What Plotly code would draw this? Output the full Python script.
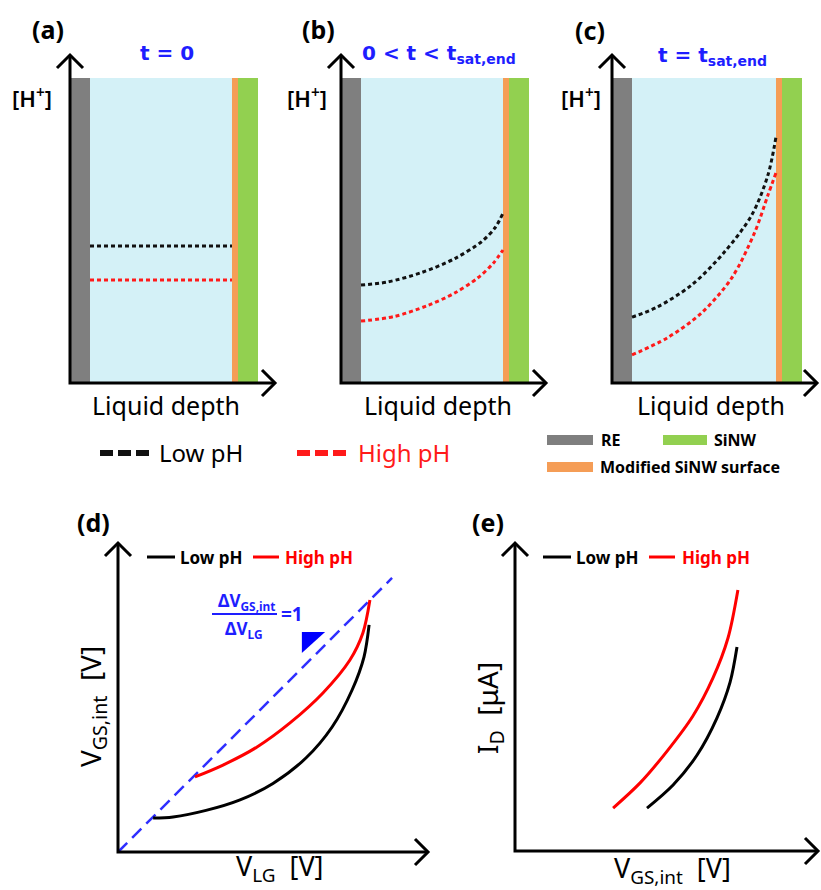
import plotly.graph_objects as go

W, H = 821, 890

# ---------------- data ----------------
# panels (a)-(c): liquid depth (0 = RE side, 1 = SiNW surface) vs [H+] (arb. units)
depth_a = [0.0, 1.0]
h_low_a = [0.449, 0.449]
h_high_a = [0.338, 0.338]

depth_b_low = [0.0, 0.184, 0.426, 0.660, 0.851, 0.944, 1.0]
h_low_b = [0.321, 0.331, 0.362, 0.408, 0.464, 0.509, 0.557]
depth_b_high = [0.0, 0.234, 0.468, 0.660, 0.823, 0.930, 1.0]
h_high_b = [0.203, 0.218, 0.254, 0.295, 0.345, 0.392, 0.436]

depth_c_low = [0.0, 0.175, 0.413, 0.643, 0.832, 0.944, 1.0]
h_low_c = [0.216, 0.249, 0.321, 0.430, 0.551, 0.682, 0.807]
depth_c_high = [0.0, 0.245, 0.483, 0.692, 0.853, 0.944, 1.0]
h_high_c = [0.092, 0.148, 0.230, 0.344, 0.495, 0.616, 0.689]

# panel (d): V_LG vs V_GS,int (arb. units)
vlg_low = [0.130, 0.204, 0.326, 0.452, 0.574, 0.696, 0.793, 0.867, 0.911, 0.930]
vgs_low = [0.126, 0.130, 0.154, 0.193, 0.254, 0.348, 0.463, 0.600, 0.722, 0.841]
vlg_high = [0.285, 0.389, 0.515, 0.637, 0.759, 0.859, 0.907, 0.933]
vgs_high = [0.278, 0.322, 0.389, 0.478, 0.589, 0.711, 0.811, 0.933]
vlg_ideal = [0.0, 1.015]
vgs_ideal = [0.0, 1.015]

# panel (e): V_GS,int vs I_D (arb. units)
vgs_e_low = [0.440, 0.527, 0.607, 0.673, 0.717, 0.740]
id_low = [0.143, 0.220, 0.320, 0.443, 0.563, 0.680]
vgs_e_high = [0.327, 0.417, 0.507, 0.593, 0.660, 0.710, 0.743]
id_high = [0.143, 0.227, 0.333, 0.450, 0.577, 0.710, 0.870]

panel_labels = ["(a)", "(b)", "(c)", "(d)", "(e)"]
time_labels = ["t = 0", "0 &lt; t &lt; t<sub>sat,end</sub>", "t = t<sub>sat,end</sub>"]

# ---------------- styling ----------------
BLACK = "#111111"
RED = "#ff1a1a"
BLUE = "#1e1eff"
GRAY = "#7f7f7f"
LIQ = "#d4f1f7"
ORANGE = "#f59d56"
GREEN = "#92d050"
FONT = "Noto Sans"
WIDE = "DejaVu Sans"

fig = go.Figure()
layout = dict(width=W, height=H, margin=dict(l=0, r=0, t=0, b=0),
              paper_bgcolor="white", plot_bgcolor="rgba(0,0,0,0)",
              showlegend=False)
shapes = []
annots = []


def refs(i):
    return ("x", "y") if i == 1 else (f"x{i}", f"y{i}")


def add_axes(i, x0px, sx, y0px, sy, left, right, top, bottom):
    xr, yr = refs(i)
    xn = "xaxis" if i == 1 else f"xaxis{i}"
    yn = "yaxis" if i == 1 else f"yaxis{i}"
    layout[xn] = dict(domain=[left / W, right / W],
                      range=[(left - x0px) / sx, (right - x0px) / sx],
                      visible=False, anchor=yr, fixedrange=True)
    layout[yn] = dict(domain=[1 - bottom / H, 1 - top / H],
                      range=[(y0px - bottom) / sy, (y0px - top) / sy],
                      visible=False, anchor=xr, fixedrange=True)


def arrow_axes(i, xa, ya, xtip, ytip, width=3):
    xr, yr = refs(i)
    shapes.append(dict(type="path", xref=xr, yref=yr, layer="above",
                       path=f"M {xa},{ytip} L {xa},{ya} L {xtip},{ya}",
                       line=dict(color="black", width=width)))
    shapes.append(dict(type="path", xref=xr, yref=yr, layer="above",
                       xsizemode="pixel", ysizemode="pixel", xanchor=xa, yanchor=ytip,
                       path="M -13,-13 L 0,0 L 13,-13",
                       line=dict(color="black", width=width)))
    shapes.append(dict(type="path", xref=xr, yref=yr, layer="above",
                       xsizemode="pixel", ysizemode="pixel", xanchor=xtip, yanchor=ya,
                       path="M -13,13 L 0,0 L -13,-13",
                       line=dict(color="black", width=width)))


def text(t, x, y, size, color="black", xanchor="center", angle=0, family=FONT, weight="normal"):
    annots.append(dict(text=t, x=x / W, y=1 - y / H, xref="paper", yref="paper",
                       xanchor=xanchor, yanchor="middle", showarrow=False,
                       textangle=angle,
                       font=dict(size=size, color=color, family=family, weight=weight)))


SPL = dict(shape="spline", smoothing=0.9)

# ---------------- panels (a)-(c) ----------------
top_axis_px = [70, 341, 612]
liq_w = [142, 142, 144]
top_series = [
    (depth_a, h_low_a, depth_a, h_high_a),
    (depth_b_low, h_low_b, depth_b_high, h_high_b),
    (depth_c_low, h_low_c, depth_c_high, h_high_c),
]
Y0PX, SY = 383, 305  # [H+] = 0 at the x axis, 1 at the top of the cell
for k in range(3):
    i = k + 1
    ax = top_axis_px[k]
    lw = liq_w[k]
    x0px = ax + 20
    add_axes(i, x0px, lw, Y0PX, SY, ax - 30, min(W, ax + 230), 28, 400)
    xr, yr = refs(i)
    xa = -20 / lw
    xo = 1 + 6 / lw
    xg = 1 + 26 / lw
    xtip = 185 / lw
    ytip = (Y0PX - 55) / SY
    for (a, b, c) in [(xa, 0, GRAY), (0, 1, LIQ), (1, xo, ORANGE), (xo, xg, GREEN)]:
        shapes.append(dict(type="rect", xref=xr, yref=yr, layer="below",
                           x0=a, x1=b, y0=0, y1=1, line=dict(width=0), fillcolor=c))
    dl, hl, dh, hh = top_series[k]
    fig.add_trace(go.Scatter(x=dl, y=hl, mode="lines", xaxis=xr, yaxis=yr,
                             line=dict(color=BLACK, width=3, dash="4px,3px", **SPL)))
    fig.add_trace(go.Scatter(x=dh, y=hh, mode="lines", xaxis=xr, yaxis=yr,
                             line=dict(color=RED, width=3, dash="4px,3px", **SPL)))
    arrow_axes(i, xa, 0, xtip, ytip)

# ---------------- panel (d) ----------------
add_axes(4, 118, 270, 852, 270, 90, 450, 520, 875)
fig.add_trace(go.Scatter(x=vlg_ideal, y=vgs_ideal, mode="lines", xaxis="x4", yaxis="y4",
                         line=dict(color="#2f2fff", width=2.5, dash="13px,7px")))
fig.add_trace(go.Scatter(x=vlg_low, y=vgs_low, mode="lines", xaxis="x4", yaxis="y4",
                         line=dict(color="black", width=3, **SPL)))
fig.add_trace(go.Scatter(x=vlg_high, y=vgs_high, mode="lines", xaxis="x4", yaxis="y4",
                         line=dict(color="#ff0000", width=3, **SPL)))
shapes.append(dict(type="path", xref="x4", yref="y4", layer="above",
                   path="M 0.681,0.815 L 0.767,0.815 L 0.681,0.737 Z",
                   line=dict(width=0), fillcolor="#0000ff"))
arrow_axes(4, 0, 0, (428 - 118) / 270, (852 - 543) / 270)

# ---------------- panel (e) ----------------
add_axes(5, 515, 300, 851, 300, 487, 821, 520, 875)
fig.add_trace(go.Scatter(x=vgs_e_low, y=id_low, mode="lines", xaxis="x5", yaxis="y5",
                         line=dict(color="black", width=3, **SPL)))
fig.add_trace(go.Scatter(x=vgs_e_high, y=id_high, mode="lines", xaxis="x5", yaxis="y5",
                         line=dict(color="#ff0000", width=3, **SPL)))
arrow_axes(5, 0, 0, (818 - 515) / 300, (851 - 543) / 300)

# ---------------- texts ----------------
for lab, (x, y) in zip(panel_labels, [(48, 29), (318, 29), (590, 30), (93, 522), (488, 522)]):
    text(f"<b>{lab}</b>", x, y, 25)

for t, (x, y) in zip(time_labels, [(167, 53), (439, 54), (712, 56)]):
    text(f"<b>{t}</b>", x, y, 20, color=BLUE, family=WIDE)

for x in [32, 307, 581]:
    text("[H<sup>+</sup>]", x, 97, 22, weight=600)

for x in [166, 438, 711]:
    text("Liquid depth", x, 405, 25)

# dashed legend
shapes.append(dict(type="line", xref="paper", yref="paper", x0=100 / W, x1=149 / W,
                   y0=1 - 453 / H, y1=1 - 453 / H,
                   line=dict(color=BLACK, width=6, dash="13px,5px")))
text("Low pH", 157, 452, 24, xanchor="left")
shapes.append(dict(type="line", xref="paper", yref="paper", x0=297 / W, x1=346 / W,
                   y0=1 - 453 / H, y1=1 - 453 / H,
                   line=dict(color=RED, width=6, dash="13px,5px")))
text("High pH", 356, 452, 24, color=RED, xanchor="left")

# material legend
for (x0, x1, y, c) in [(547, 593, 440, GRAY), (663, 707, 440, GREEN), (547, 593, 467, ORANGE)]:
    shapes.append(dict(type="rect", xref="paper", yref="paper", x0=x0 / W, x1=x1 / W,
                       y0=1 - (y + 5) / H, y1=1 - (y - 5) / H, line=dict(width=0), fillcolor=c))
text("<b>RE</b>", 599, 440, 16, xanchor="left")
text("<b>SiNW</b>", 712, 440, 16, xanchor="left")
text("<b>Modified SiNW surface</b>", 598, 467, 16, xanchor="left")

# line legends of (d) and (e)
for (bx, lx, rx, hx) in [(147, 178, 253, 283), (543, 574, 649, 680)]:
    shapes.append(dict(type="line", xref="paper", yref="paper", x0=bx / W, x1=(bx + 28) / W,
                       y0=1 - 557 / H, y1=1 - 557 / H, line=dict(color="black", width=3)))
    text("<b>Low pH</b>", lx, 557, 17, xanchor="left")
    shapes.append(dict(type="line", xref="paper", yref="paper", x0=rx / W, x1=(rx + 26) / W,
                       y0=1 - 557 / H, y1=1 - 557 / H, line=dict(color="#ff0000", width=3)))
    text("<b>High pH</b>", hx, 557, 17, color="#ff0000", xanchor="left")

# slope annotation in (d)
text("<b>ΔV<sub>GS,int</sub></b>", 246, 601, 17, color=BLUE)
shapes.append(dict(type="line", xref="paper", yref="paper", x0=212 / W, x1=277 / W,
                   y0=1 - 614 / H, y1=1 - 614 / H, line=dict(color=BLUE, width=2)))
text("<b>ΔV<sub>LG</sub></b>", 244, 629, 17, color=BLUE)
text("<b>=1</b>", 292, 614, 19, color=BLUE)

# axis titles of (d) and (e)
text("V<sub>GS,int</sub>  [V]", 92, 707, 28, angle=-90)
text("V<sub>LG</sub>  [V]", 280, 867, 27)
text("I<sub>D</sub>  [μA]", 489, 708, 28, angle=-90)
text("V<sub>GS,int</sub>  [V]", 672, 869, 27)

layout["shapes"] = shapes
layout["annotations"] = annots
fig.update_layout(**layout)
fig.write_html("out.html", config={"displayModeBar": False},
               post_script="document.body.style.margin='0';document.body.style.overflow='hidden';")
